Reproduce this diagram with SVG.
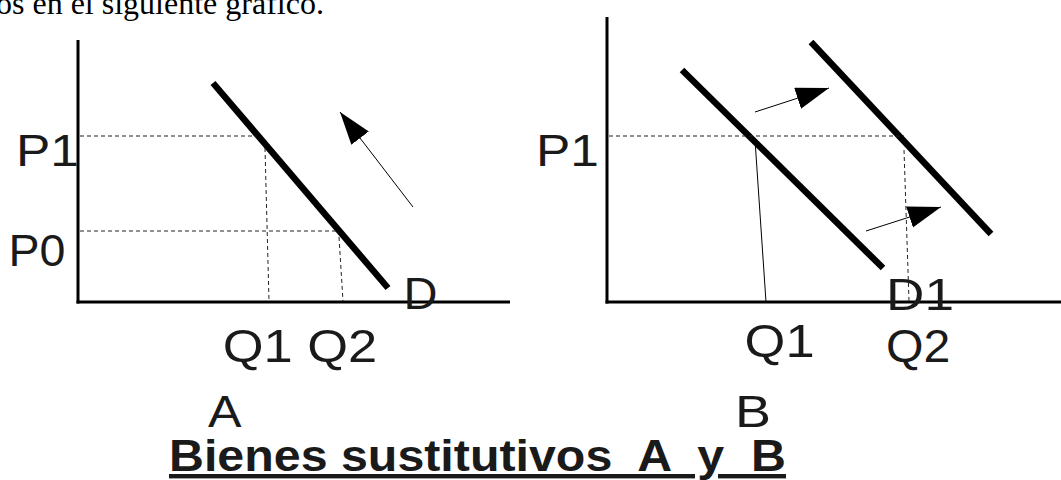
<svg xmlns="http://www.w3.org/2000/svg" width="1061" height="480" viewBox="0 0 1061 480">
<style>
.axis{stroke:#000;stroke-width:3;fill:none}
.curve{stroke:#000;stroke-width:6.5;fill:none;stroke-linecap:butt}
.dash{stroke:#222;stroke-width:1;stroke-dasharray:4 3;fill:none}
.thin{stroke:#000;stroke-width:1;fill:none}
.arrow{stroke:#000;stroke-width:1;fill:none;marker-end:url(#head)}
.lbl{font-family:"Liberation Sans",Arial,sans-serif;fill:#1a1a1a}
.title{font-family:"Liberation Sans",Arial,sans-serif;font-weight:bold;fill:#1a1a1a;text-decoration:underline}
.top{font-family:"Liberation Serif","Times New Roman",serif;fill:#000}
</style>
<defs>
<marker id="head" markerUnits="userSpaceOnUse" markerWidth="34" markerHeight="24" refX="33" refY="11" orient="auto" viewBox="0 0 34 24">
<path d="M0,0 L33,11 L0,22 Z" fill="#000"/>
</marker>
</defs>
<rect width="1061" height="480" fill="#fff"/>
<text class="top" x="-4" y="14" font-size="32">os en el siguiente gráfico.</text>

<g id="chartA">
<g id="axesA">
<line class="axis" x1="78" y1="40" x2="78" y2="303.5"/>
<line class="axis" x1="76.5" y1="302" x2="510" y2="302"/>
</g>
<g id="curveD"><line class="curve" x1="213" y1="83" x2="388" y2="288"/></g>
<g id="labelsA">
<text class="lbl" x="16" y="166" font-size="44" textLength="63" lengthAdjust="spacingAndGlyphs">P1</text>
<text class="lbl" x="8.5" y="266" font-size="44" textLength="57" lengthAdjust="spacingAndGlyphs">P0</text>
<text class="lbl" x="222.7" y="362" font-size="46" textLength="154.6" lengthAdjust="spacingAndGlyphs">Q1 Q2</text>
<text class="lbl" x="403.5" y="309" font-size="44" textLength="34" lengthAdjust="spacingAndGlyphs">D</text>
<text class="lbl" x="208" y="427" font-size="44" textLength="33.5" lengthAdjust="spacingAndGlyphs">A</text>
</g>
</g>

<g id="chartB">
<g id="axesB">
<line class="axis" x1="607" y1="17" x2="607" y2="303.5"/>
<line class="axis" x1="605.5" y1="302" x2="1061" y2="302"/>
</g>
<g id="curveD0"><line class="curve" x1="682" y1="70" x2="883" y2="268"/></g>
<g id="curveD1"><line class="curve" x1="811" y1="42" x2="991" y2="234"/></g>
<g id="labelsB">
<text class="lbl" x="536" y="166" font-size="44" textLength="63" lengthAdjust="spacingAndGlyphs">P1</text>
<text class="lbl" x="744.6" y="357" font-size="46" textLength="70" lengthAdjust="spacingAndGlyphs">Q1</text>
<text class="lbl" x="885.9" y="362" font-size="46" textLength="64.4" lengthAdjust="spacingAndGlyphs">Q2</text>
<text class="lbl" x="886" y="310" font-size="45" textLength="68" lengthAdjust="spacingAndGlyphs">D1</text>
<text class="lbl" x="735" y="427" font-size="44" textLength="36" lengthAdjust="spacingAndGlyphs">B</text>
</g>
</g>

<g id="connectors">
<line class="dash" x1="80" y1="136" x2="257" y2="136"/>
<line class="dash" x1="265" y1="148" x2="269" y2="301"/>
<line class="dash" x1="80" y1="231" x2="337" y2="231"/>
<line class="dash" x1="339" y1="237" x2="343" y2="301"/>
<line class="arrow" x1="413" y1="207" x2="340" y2="112"/>
<line class="dash" x1="609" y1="136" x2="904" y2="136"/>
<line class="dash" x1="904" y1="150" x2="909" y2="301"/>
<line class="thin" x1="755" y1="140" x2="766" y2="302"/>
<line class="arrow" x1="755" y1="112" x2="829" y2="88"/>
<line class="arrow" x1="866" y1="231" x2="941" y2="207"/>
</g>

<g id="title">
<text class="title" x="169" y="471" font-size="44" textLength="617" lengthAdjust="spacingAndGlyphs" xml:space="preserve">Bienes sustitutivos  A  y  B</text>
</g>
</svg>
